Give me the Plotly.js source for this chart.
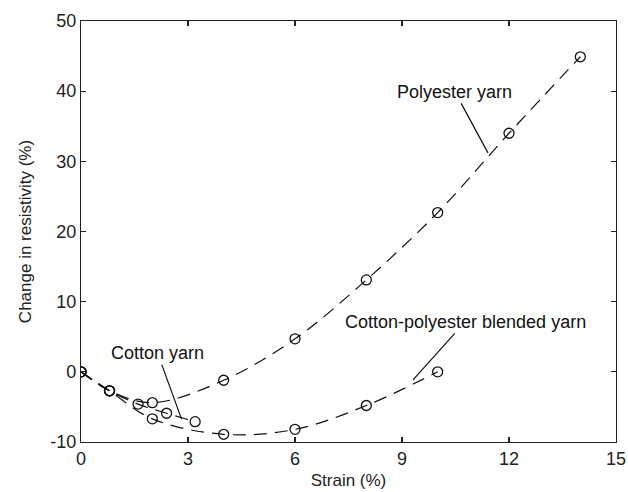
<!DOCTYPE html>
<html>
<head>
<meta charset="utf-8">
<script src="https://cdn.plot.ly/plotly-3.0.1.min.js"></script>
<style>html,body{margin:0;padding:0;background:#fff;}#chart{width:628px;height:492px;}</style>
</head>
<body>
<div id="chart"></div>
<script>
// Data
const polyesterStrain = [0, 0.8, 2, 4, 6, 8, 10, 12, 14];
const polyesterChange = [0, -2.7, -4.4, -1.2, 4.7, 13.1, 22.7, 34.0, 44.9];
const cottonStrain = [0, 0.8, 1.6, 2.4, 3.2];
const cottonChange = [0, -2.7, -4.6, -5.9, -7.1];
const blendStrain = [0, 0.8, 2, 4, 6, 8, 10];
const blendChange = [0, -2.7, -6.7, -8.9, -8.2, -4.8, 0];
const xTicks = [0, 3, 6, 9, 12, 15];
const yTicks = [-10, 0, 10, 20, 30, 40, 50];

const lineStyle = {color: '#111', width: 1.2, dash: '13px,8px', shape: 'spline', smoothing: 1};
const markerStyle = {symbol: 'circle-open', size: 10, color: '#111', line: {width: 1.3, color: '#111'}};

function series(x, y, name) {
  return {x: x, y: y, name: name, type: 'scatter', mode: 'lines+markers',
          line: lineStyle, marker: markerStyle, showlegend: false, hoverinfo: 'skip'};
}

const data = [
  series(polyesterStrain, polyesterChange, 'Polyester yarn'),
  series(cottonStrain, cottonChange, 'Cotton yarn'),
  series(blendStrain, blendChange, 'Cotton-polyester blended yarn')
];

const fontFam = 'Liberation Sans, Arial, sans-serif';
const annFont = {family: fontFam, size: 18, color: '#111'};
function ann(text, x, y, ax, ay) {
  return {text: text, x: x, y: y, xref: 'x', yref: 'y', ax: ax, ay: ay,
          showarrow: true, arrowhead: 0, arrowwidth: 1.2, arrowcolor: '#111',
          standoff: 0, startstandoff: 0, font: annFont};
}

const axisCommon = {
  showline: true, linecolor: '#222', linewidth: 1.2, mirror: 'allticks',
  ticks: 'inside', ticklen: 5, tickwidth: 1.2, tickcolor: '#222',
  showgrid: false, zeroline: false,
  tickfont: {family: fontFam, size: 18, color: '#222'}
};

const layout = {
  width: 628, height: 492,
  margin: {l: 81, r: 12, t: 21, b: 50},
  paper_bgcolor: '#fff', plot_bgcolor: '#fff',
  xaxis: Object.assign({}, axisCommon, {
    range: [0, 15], tickvals: xTicks, ticktext: xTicks.map(String),
    title: {text: 'Strain (%)', standoff: 6, font: {family: fontFam, size: 17, color: '#222'}}
  }),
  yaxis: Object.assign({}, axisCommon, {
    range: [-10, 50], tickvals: yTicks, ticktext: yTicks.map(String),
    title: {text: 'Change in resistivity (%)', standoff: 14, font: {family: fontFam, size: 17, color: '#222'}}
  }),
  annotations: [
    ann('Polyester yarn', 11.41, 31.2, -33, -61),
    ann('Cotton-polyester blended yarn', 9.31, -1.14, 52, -58),
    ann('Cotton yarn', 2.82, -6.74, -24, -66)
  ]
};

Plotly.newPlot('chart', data, layout, {displayModeBar: false, staticPlot: true});
</script>
</body>
</html>
